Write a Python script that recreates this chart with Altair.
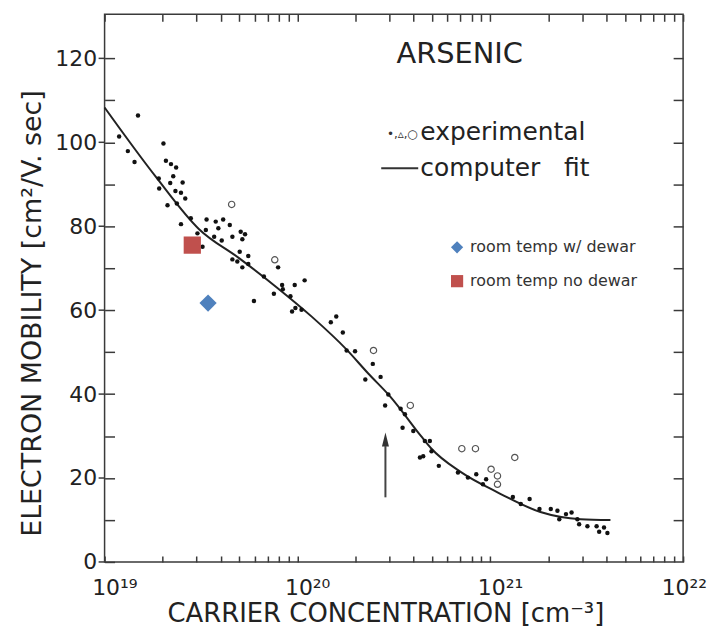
import json
import altair as alt
import pandas as pd

# ---------------- data ----------------
# experimental points (filled dots): carrier concentration [cm^-3], mobility [cm2/V.sec]
dot_n = [1.49e19, 1.19e19, 1.32e19, 1.43e19, 2.02e19, 2.08e19, 2.21e19, 2.35e19, 2.27e19, 1.91e19,
         2.19e19, 2.54e19, 1.92e19, 2.33e19, 2.49e19, 2.62e19, 2.12e19, 2.37e19, 2.49e19, 2.80e19,
         3.38e19, 3.35e19, 3.77e19, 3.22e19, 3.70e19, 3.03e19, 4.12e19, 3.89e19, 4.46e19, 5.08e19,
         5.35e19, 4.60e19, 5.18e19, 4.05e19, 5.02e19, 5.56e19, 4.60e19, 4.88e19, 5.56e19, 5.18e19,
         7.94e19, 6.70e19, 8.33e19, 9.68e19, 1.09e20, 8.40e19, 7.55e19, 9.20e19, 5.95e19, 9.76e19,
         1.05e20, 9.38e19, 1.59e20, 1.49e20, 1.72e20, 1.80e20, 1.99e20, 2.46e20, 2.70e20, 2.25e20,
         2.96e20, 2.85e20, 3.43e20, 3.61e20, 3.51e20, 3.99e20, 4.58e20, 4.86e20, 4.96e20, 4.32e20,
         4.49e20, 5.41e20, 6.80e20, 7.66e20, 8.46e20, 9.52e20, 9.16e20, 1.31e21, 1.44e21, 1.60e21,
         1.80e21, 2.06e21, 2.23e21, 2.28e21, 2.47e21, 2.64e21, 2.83e21, 2.89e21, 3.19e21, 3.56e21,
         3.89e21, 4.05e21, 3.67e21]
dot_mu = [106.4, 101.4, 97.9, 95.3, 99.7, 95.6, 94.8, 94.0, 91.9, 91.4,
          90.3, 90.4, 89.0, 88.4, 88.0, 86.6, 85.0, 85.4, 80.5, 81.9,
          81.6, 79.1, 81.1, 75.1, 77.5, 78.3, 81.6, 79.5, 80.3, 78.7,
          78.1, 77.5, 76.9, 76.6, 73.9, 72.9, 72.1, 71.6, 71.0, 70.2,
          70.2, 68.0, 66.0, 66.0, 67.1, 65.0, 63.9, 63.3, 62.2, 60.5,
          60.1, 59.7, 58.5, 57.1, 54.7, 50.4, 50.2, 47.2, 44.1, 43.5,
          39.9, 37.3, 36.5, 35.2, 32.0, 31.2, 28.8, 28.8, 26.4, 24.9,
          25.2, 22.9, 21.3, 20.1, 20.9, 19.7, 18.5, 15.5, 13.8, 15.0,
          12.6, 12.6, 12.2, 10.2, 11.4, 11.8, 10.2, 9.0, 8.5, 8.5,
          8.2, 6.9, 7.2]

# experimental points (open symbols)
open_n = [4.56e19, 7.63e19, 2.48e20, 3.85e20, 7.12e20, 8.38e20, 1.34e21, 1.01e21, 1.09e21, 1.09e21]
open_mu = [85.2, 72.0, 50.4, 37.3, 27.0, 27.0, 24.9, 22.1, 20.5, 18.5]

# computer fit
fit_n = [1.0e19, 1.85e19, 3.09e19, 4.98e19, 7.73e19, 1.19e20, 1.80e20, 2.33e20, 3.03e20,
         4.39e20, 4.93e20, 7.05e20, 1.09e21, 1.82e21, 2.94e21, 4.20e21]
fit_mu = [108.3, 91.7, 79.3, 72.4, 65.6, 58.4, 50.6, 44.9, 39.4,
          29.9, 27.1, 21.4, 16.6, 11.9, 10.2, 10.0]

# added room-temperature measurements
marker_label = ["room temp w/ dewar", "room temp no dewar"]
marker_n = [3.44e19, 2.85e19]
marker_mu = [61.7, 75.5]
marker_color = ["#4f81bd", "#c0504d"]
marker_shape = ["diamond", "square"]

# arrow annotation
arrow_n = [2.86e20]
arrow_mu_base = [15.4]
arrow_mu_head = [27.6]
arrow_mu_tip = [29.2]

# text annotations
NB = "\u00a0"
note_text = ["ARSENIC", "experimental", "computer" + NB * 3 + "fit"]
note_n = [3.26e20, 4.34e20, 4.34e20]
note_mu = [118.8, 100.5, 91.9]
note_size = [29, 25, 25]
sym_text = ["\u2022,\u25b5,\u25cb"]
sym_n = [4.22e20]
sym_mu = [101.0]
key_line_n = [2.72e20]
key_line_n2 = [4.23e20]
key_line_mu = [93.8]

# axes
x_major = [1e19, 1e20, 1e21, 1e22]
x_labels = ["10¹⁹", "10²⁰", "10²¹", "10²²"]
x_minor = [k * 10.0 ** e for e in (19, 20, 21) for k in range(2, 10)]
y_ticks = [0, 10, 20, 30, 40, 50, 60, 70, 80, 90, 100, 110, 120]
y_major = [0, 20, 40, 60, 80, 100, 120]
X_DOMAIN = [1e19, 1e22]
Y_DOMAIN = [0, 130.5]

FONT = "DejaVu Sans"
INK = "#222222"
FRAME = "#3a3a3a"

# ---------------- chart ----------------
W, H = 581, 550
xs = alt.Scale(type="log", domain=X_DOMAIN, nice=False)
ys = alt.Scale(domain=Y_DOMAIN, nice=False, zero=False)
PX_X = 10 ** (3.0 / W)

x_tick_values = sorted(x_major + x_minor)
LOG = "(log(datum.value)/LN10)"
label_expr = (f"abs({LOG} - round({LOG})) < 0.001 ? "
              + json.dumps(x_labels, ensure_ascii=False)
              + f"[round({LOG}) - 19] : ''")

# bottom axis: pulled 6px into the plot so its ticks point inward
x_axis = alt.Axis(
    orient="bottom", offset=-6, values=x_tick_values, labelExpr=label_expr, zindex=2,
    ticks=True, tickSize=6, tickWidth=1.5, tickColor=FRAME, domain=False, grid=False,
    labelFont=FONT, labelFontSize=22, labelColor=INK, labelAlign="left",
    labelBaseline="top", labelPadding=16,
    labelOffset={"condition": {"test": "datum.value > 5e21", "value": -22}, "value": -13},
    labelFlush=False, labelOverlap=False, labelBound=False,
    title="CARRIER CONCENTRATION [cm⁻³]", titleFont=FONT, titleFontSize=26,
    titleFontWeight="normal", titleColor=INK, titleX=282, titleY=66,
    titleBaseline="alphabetic", titleAlign="center",
)
# left axis: pulled 10px into the plot so its ticks point inward
y_axis = alt.Axis(
    orient="left", offset=-10, values=y_ticks, format="d", zindex=2,
    labelExpr="datum.value % 20 == 0 ? datum.label : ''",
    ticks=True, tickSize=10, tickWidth=1.5, tickColor=FRAME,
    domain=False, grid=False, labelFont=FONT, labelFontSize=22, labelColor=INK,
    labelPadding=8, labelOverlap=False,
    title="ELECTRON MOBILITY [cm²/V. sec]", titleFont=FONT, titleFontSize=27,
    titleFontWeight="normal", titleColor=INK, titleAngle=-90, titleX=-74, titleY=300,
    titleBaseline="alphabetic", titleAlign="center",
)
# top and right axes: ticks only, pointing inward
top_axis = alt.Axis(
    orient="top", offset=-7, values=x_tick_values, ticks=True, tickSize=7, tickWidth=1.5,
    tickColor=FRAME, labels=False, domain=False, grid=False, title=None, zindex=2,
)
right_axis = alt.Axis(
    orient="right", offset=-10, values=y_ticks[1:], ticks=True, tickSize=10, tickWidth=1.5,
    tickColor=FRAME, labels=False, domain=False, grid=False, title=None, zindex=2,
)


def X(field="n:Q"):
    return alt.X(field, scale=xs, axis=x_axis)


def Y(field="mu:Q"):
    return alt.Y(field, scale=ys, axis=y_axis)


df_dots = pd.DataFrame({"n": dot_n, "mu": dot_mu})
df_open = pd.DataFrame({"n": open_n, "mu": open_mu})
df_fit = pd.DataFrame({"n": fit_n, "mu": fit_mu})
df_mark = pd.DataFrame({"n": marker_n, "mu": marker_mu, "label": marker_label})
df_arrow = pd.DataFrame({"n": arrow_n, "mu": arrow_mu_base, "mu2": arrow_mu_head, "tip": arrow_mu_tip})
df_note = pd.DataFrame({"n": note_n, "mu": note_mu, "t": note_text, "s": note_size})
df_sym = pd.DataFrame({"n": sym_n, "mu": sym_mu, "t": sym_text})
df_key = pd.DataFrame({"n": key_line_n, "n2": key_line_n2, "mu": key_line_mu})
# outward stubs of the major mobility ticks (left edge)
df_ystub = pd.DataFrame({"mu": y_major})
df_ystub["a"] = X_DOMAIN[0] / PX_X ** 6
df_ystub["b"] = X_DOMAIN[0]

dots = alt.Chart(df_dots).mark_circle(size=20, color="#111111", opacity=1).encode(x=X(), y=Y())

opens = alt.Chart(df_open).mark_point(shape="circle", filled=False, size=40,
                                      color="#555555", strokeWidth=1.2, opacity=1).encode(x=X(), y=Y())

fit = alt.Chart(df_fit).mark_line(color="#222222", strokeWidth=2, interpolate="monotone").encode(
    x=X(), y=Y())

legend = alt.Legend(
    title=None, orient="none", legendX=346, legendY=226, padding=0,
    labelFont=FONT, labelFontSize=16, labelColor="#333333", labelOffset=5, labelLimit=400,
    symbolSize=150, rowPadding=18, symbolStrokeWidth=0,
)
markers = alt.Chart(df_mark).mark_point(filled=True, size=300, opacity=1).encode(
    x=X(), y=Y(),
    color=alt.Color("label:N", scale=alt.Scale(domain=marker_label, range=marker_color), legend=legend),
    shape=alt.Shape("label:N", scale=alt.Scale(domain=marker_label, range=marker_shape), legend=legend),
)

arrow_shaft = alt.Chart(df_arrow).mark_rule(color="#444444", strokeWidth=2).encode(
    x=X(), y=Y(), y2="mu2:Q")
arrow_head = alt.Chart(df_arrow).mark_point(shape="M-0.5,1L0.5,1L0,-1Z", filled=True, size=196,
                                            color="#333333", opacity=1).encode(
    x=X(), y=Y("tip:Q"))

notes = alt.Chart(df_note).mark_text(align="left", baseline="alphabetic", font=FONT, color=INK).encode(
    x=X(), y=Y(), text="t:N", size=alt.Size("s:Q", scale=None, legend=None))
syms = alt.Chart(df_sym).mark_text(align="right", baseline="alphabetic", font=FONT, fontSize=12,
                                   color="#333333").encode(x=X(), y=Y(), text="t:N")
key_line = alt.Chart(df_key).mark_rule(color="#333333", strokeWidth=2).encode(
    x=X(), x2="n2:Q", y=Y())
ystubs = alt.Chart(df_ystub).mark_rule(color=FRAME, strokeWidth=1.5).encode(
    x=X("a:Q"), x2="b:Q", y=Y())

main = alt.layer(fit, dots, opens, markers, arrow_shaft, arrow_head, notes, syms, key_line, ystubs)

# invisible layer that only carries the top and right tick axes
frame = alt.Chart(df_fit).mark_line(opacity=0).encode(
    x=alt.X("n:Q", scale=xs, axis=top_axis),
    y=alt.Y("mu:Q", scale=ys, axis=right_axis),
)

chart = alt.layer(main, frame).resolve_axis(
    x="independent", y="independent"
).properties(
    width=W, height=H,
    padding={"left": 97, "top": 5, "right": 24, "bottom": 66},
    autosize=alt.AutoSizeParams(type="none"),
    background="white",
).configure_view(stroke=FRAME, strokeWidth=1.5)

chart.save("out.html", embed_options={"renderer": "svg", "actions": False})
